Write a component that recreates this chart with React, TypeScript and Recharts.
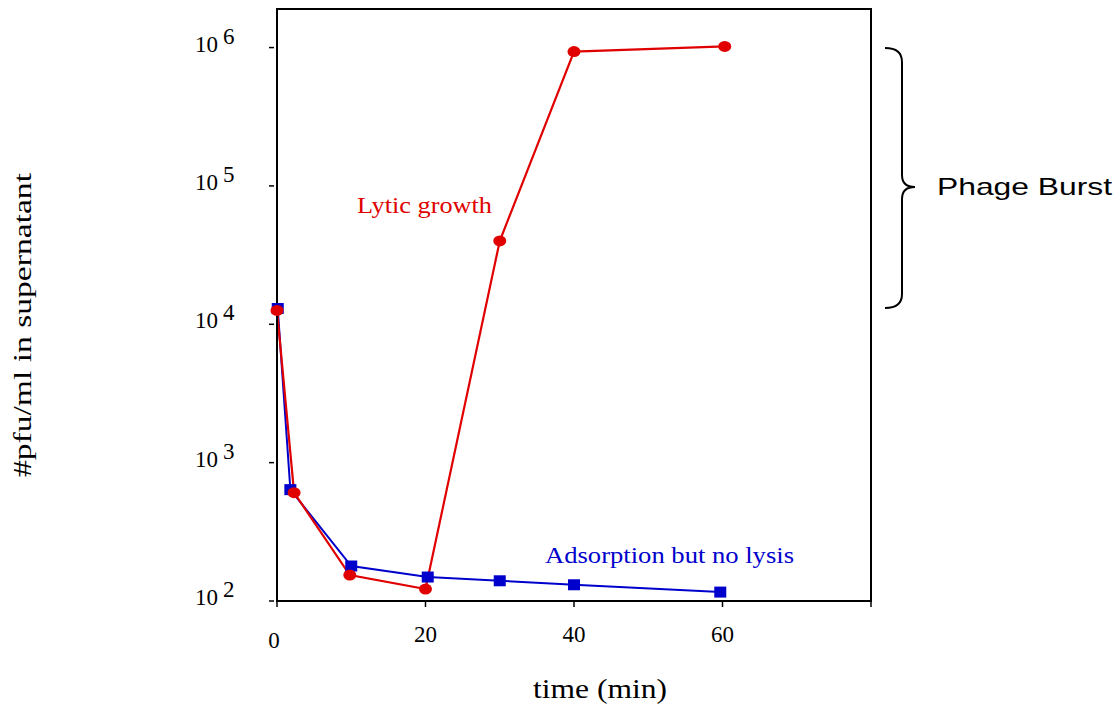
import React from 'react';
import { LineChart, Line, XAxis, YAxis, ReferenceArea } from 'recharts';

// Lytic growth (red circles)
const lyticTimes = [0, 2.3, 9.8, 20, 30, 40, 60.3];
const lyticPfu = [12600, 607, 154, 122, 40000, 936000, 1020000];
// Adsorption but no lysis (blue squares)
const adsTimes = [0.1, 1.8, 10, 20.3, 30, 40, 59.7];
const adsPfu = [13000, 638, 179, 149, 140, 131, 116];

const xTicks = [0, 20, 40, 60, 80];
const yTicks = [100, 1000, 10000, 100000, 1000000];
const yExponents = ['2', '3', '4', '5', '6'];

const lyticData = lyticTimes.map((t, i) => ({ t, v: lyticPfu[i] }));
const adsData = adsTimes.map((t, i) => ({ t, v: adsPfu[i] }));

const RED = '#e00000';
const BLUE = '#0000cc';
const SERIF = 'Liberation Serif';
const SANS = 'Liberation Sans';

const XTick = (props: any) => {
  const { x, y, payload } = props;
  const v = payload.value;
  if (v === 80) return <g />;
  const isZero = v === 0;
  return (
    <text
      x={isZero ? x - 3 : x}
      y={y}
      dy={isZero ? 41 : 35}
      textAnchor="middle"
      style={{ fontFamily: SERIF, fontSize: 23 }}
      fill="#000"
    >
      {v}
    </text>
  );
};

const YTick = (props: any) => {
  const { x, y, payload } = props;
  const idx = yTicks.indexOf(payload.value);
  return (
    <g>
      <line x1={x - 8} x2={x - 3} y1={y} y2={y} stroke="#000" strokeWidth={1.5} />
      <text x={x - 82} y={y + 4} style={{ fontFamily: SERIF, fontSize: 23 }} fill="#000">
        10
        <tspan dx={5} dy={-8}>{yExponents[idx]}</tspan>
      </text>
    </g>
  );
};

const RedDot = (props: any) => {
  const { cx, cy, index } = props;
  return <ellipse key={`r${index}`} cx={cx} cy={cy} rx={6.5} ry={5.5} fill={RED} />;
};

const BlueDot = (props: any) => {
  const { cx, cy, index } = props;
  return <rect key={`b${index}`} x={cx - 6} y={cy - 5.5} width={12} height={11} fill={BLUE} />;
};

export default function App() {
  return (
    <div style={{ position: 'absolute', left: 0, top: 0, width: 1117, height: 708 }}>
      <LineChart
        width={1117}
        height={708}
        margin={{ top: 9, right: 246, bottom: 47, left: 197 }}
      >
        <XAxis
          dataKey="t"
          type="number"
          domain={[0, 80]}
          ticks={xTicks}
          height={60}
          axisLine={{ stroke: '#000', strokeWidth: 2 }}
          tickLine={{ stroke: '#000', strokeWidth: 1.5 }}
          tickSize={6}
          tickMargin={0}
          tick={<XTick />}
        />
        <YAxis
          dataKey="v"
          scale="log"
          type="number"
          domain={[100, 1900000]}
          ticks={yTicks}
          width={80}
          axisLine={{ stroke: '#000', strokeWidth: 2 }}
          tickLine={false}
          tickSize={0}
          tickMargin={0}
          tick={<YTick />}
        />
        <ReferenceArea
          x1={0}
          x2={80}
          y1={100}
          y2={1900000}
          fill="none"
          fillOpacity={0}
          stroke="#000"
          strokeWidth={2}
          ifOverflow="visible"
        />
        <Line
          data={adsData}
          dataKey="v"
          stroke={BLUE}
          strokeWidth={2}
          dot={BlueDot}
          isAnimationActive={false}
        />
        <Line
          data={lyticData}
          dataKey="v"
          stroke={RED}
          strokeWidth={2.2}
          dot={RedDot}
          isAnimationActive={false}
        />
      </LineChart>
      <svg
        width={1117}
        height={708}
        style={{ position: 'absolute', left: 0, top: 0, pointerEvents: 'none' }}
      >
        <text
          x={357}
          y={213}
          style={{ fontFamily: SERIF, fontSize: 24 }}
          fill={RED}
          textLength={135}
          lengthAdjust="spacingAndGlyphs"
        >
          Lytic growth
        </text>
        <text
          x={545}
          y={563}
          style={{ fontFamily: SERIF, fontSize: 24 }}
          fill={BLUE}
          textLength={249}
          lengthAdjust="spacingAndGlyphs"
        >
          Adsorption but no lysis
        </text>
        <text
          x={937}
          y={195}
          style={{ fontFamily: SANS, fontSize: 24 }}
          fill="#000"
          textLength={175}
          lengthAdjust="spacingAndGlyphs"
        >
          Phage Burst
        </text>
        <path
          d="M885,48 Q902,48 902,62 L902,175 Q902,187 915,187 Q902,187 902,199 L902,294 Q902,308 885,308"
          fill="none"
          stroke="#000"
          strokeWidth={2}
        />
        <text
          x={600}
          y={698}
          textAnchor="middle"
          style={{ fontFamily: SERIF, fontSize: 27 }}
          fill="#000"
          textLength={134}
          lengthAdjust="spacingAndGlyphs"
        >
          time (min)
        </text>
        <text
          x={0}
          y={0}
          transform="translate(31,325) rotate(-90)"
          textAnchor="middle"
          style={{ fontFamily: SERIF, fontSize: 26 }}
          fill="#000"
          textLength={304}
          lengthAdjust="spacingAndGlyphs"
        >
          #pfu/ml in supernatant
        </text>
      </svg>
    </div>
  );
}
